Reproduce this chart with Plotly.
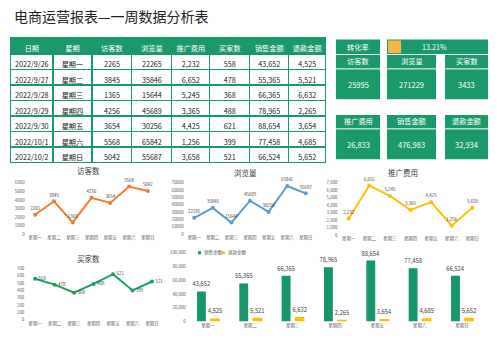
import plotly.graph_objects as go

W, H = 503, 356

dates = ["2022/9/26", "2022/9/27", "2022/9/28", "2022/9/29", "2022/9/30", "2022/10/1", "2022/10/2"]
weekdays = ["星期一", "星期二", "星期三", "星期四", "星期五", "星期六", "星期日"]
visitors = [2265, 3845, 1365, 4256, 3654, 5568, 5042]
views = [22265, 35846, 15644, 45689, 30256, 65842, 55687]
promo = [2232, 6652, 5245, 3365, 4425, 1256, 3658]
buyers = [558, 478, 368, 488, 621, 399, 521]
sales = [43652, 55365, 66365, 78965, 88654, 77458, 66524]
refund = [4525, 5521, 6632, 2265, 3654, 4685, 5652]
headers = ["日期", "星期", "访客数", "浏览量", "推广费用", "买家数", "销售金额", "退款金额"]

GREEN = "#1a9a6a"
BARGREEN = "#17966A"
YELLOW = "#FFC000"
CJK = "Noto Sans CJK SC"
TXT = "#404040"


def px(x):
    return x / W


def py(y):
    return 1 - y / H


fig = go.Figure()

# ---------------- table ----------------
colw = [42.3, 39, 40, 40, 38, 40, 39, 37]
fig.add_trace(go.Table(
    domain=dict(x=[px(10.7), px(326)], y=[py(200), py(35.5)]),
    columnwidth=colw,
    header=dict(values=headers, fill_color=GREEN, line=dict(color=GREEN, width=1.2),
                font=dict(color="white", size=7.2, family=CJK), align="center", height=16),
    cells=dict(values=[dates, weekdays, [str(v) for v in visitors], [str(v) for v in views],
                       [f"{v:,}" for v in promo], [str(v) for v in buyers],
                       [f"{v:,}" for v in sales], [f"{v:,}" for v in refund]],
               fill_color="white", line=dict(color=GREEN, width=1.2),
               font=dict(color="#1a1a1a", size=7.2, family=CJK), align="center", height=15.5),
))

shapes = []
ann = []

# ---------------- title ----------------
ann.append(dict(x=px(12), y=py(13), xref="paper", yref="paper", text="电商运营报表—一周数据分析表",
                showarrow=False, xanchor="left", yanchor="middle",
                font=dict(size=14, family=CJK, color="#222222")))

# ---------------- KPI panel ----------------
rate = sum(buyers) / sum(visitors) * 100


def box(x0, x1, y0, y1, color=GREEN):
    shapes.append(dict(type="rect", xref="paper", yref="paper", x0=px(x0), x1=px(x1),
                       y0=py(y1), y1=py(y0), fillcolor=color, line=dict(width=0), layer="below"))


def text(x, y, s, size=7.2, color="white", anchor="center"):
    ann.append(dict(x=px(x), y=py(y), xref="paper", yref="paper", text=s, showarrow=False,
                    xanchor=anchor, yanchor="middle", font=dict(size=size, family=CJK, color=color)))


box(336, 380, 37, 52)
text(358, 44.5, "转化率")
box(387, 488, 37, 52)
text(434, 44.5, f"{rate:.2f}%")

kpis = [
    ("访客数", f"{sum(visitors)}", 336, 380, 53),
    ("浏览量", f"{sum(views)}", 387, 436, 53),
    ("买家数", f"{sum(buyers)}", 445, 488, 53),
    ("推广费用", f"{sum(promo):,}", 336, 380, 114),
    ("销售金额", f"{sum(sales):,}", 387, 436, 114),
    ("退款金额", f"{sum(refund):,}", 445, 488, 114),
]
for name, val, x0, x1, y0 in kpis:
    box(x0, x1, y0, y0 + 45)
    shapes.append(dict(type="line", xref="paper", yref="paper", x0=px(x0), x1=px(x1),
                       y0=py(y0 + 14), y1=py(y0 + 14), line=dict(color="white", width=1)))
    text((x0 + x1) / 2, y0 + 6.5, name)
    text((x0 + x1) / 2, y0 + 29.5, val, size=7.5)

# progress bar for conversion rate
fig.add_trace(go.Bar(x=[rate], y=[0], orientation="h", xaxis="x6", yaxis="y6",
                     marker=dict(color="#F7B54A", line=dict(width=0)), width=1,
                     showlegend=False, hoverinfo="skip"))

# ---------------- line charts ----------------
tickfont = dict(size=4.4, color="#595959", family=CJK)
xfont = dict(size=4.4, color="#595959", family=CJK)


def yticks(rng, step, comma):
    vals = list(range(rng[0], rng[1] + 1, step))
    txt = [f"{v:,}" if comma else str(v) for v in vals]
    return vals, txt


def line_chart(idx, values, color, dom_x, dom_y, rng, dtick, comma, tpos, title, title_xy):
    xa = "x" if idx == 1 else f"x{idx}"
    ya = "y" if idx == 1 else f"y{idx}"
    labels = [f"{v:,}" if comma else str(v) for v in values]
    fig.add_trace(go.Scatter(x=weekdays, y=values, xaxis=xa, yaxis=ya, mode="lines+markers+text",
                             line=dict(color=color, width=2), marker=dict(color=color, size=4),
                             text=labels, textposition=tpos, cliponaxis=False,
                             textfont=dict(size=4.4, color=TXT, family=CJK),
                             showlegend=False, hoverinfo="skip"))
    key = "" if idx == 1 else str(idx)
    tv, tt = yticks(rng, dtick, comma)
    fig.layout["xaxis" + key] = dict(domain=[px(dom_x[0]), px(dom_x[1])], anchor=ya, type="category",
                                     showgrid=False, zeroline=False, showline=False, ticks="",
                                     tickangle=0, tickfont=xfont, fixedrange=True)
    fig.layout["yaxis" + key] = dict(domain=[py(dom_y[1]), py(dom_y[0])], anchor=xa, range=rng,
                                     tickmode="array", tickvals=tv, ticktext=tt, showgrid=False,
                                     zeroline=False, showline=False, ticks="", tickfont=tickfont,
                                     fixedrange=True)
    text(title_xy[0], title_xy[1], title, size=7.5, color=TXT)


line_chart(1, visitors, "#ED7D31", (25.6, 157.4), (183, 235), [0, 6000], 1000, False,
           "top center", "访客数", (88, 170))
line_chart(2, views, "#5B9BD5", (184.7, 315.3), (183, 235), [0, 70000], 10000, False,
           "top center", "浏览量", (245, 172))
line_chart(3, promo, YELLOW, (338.5, 482.5), (183, 236), [0, 7000], 1000, True,
           "top center", "推广费用", (403, 172))
line_chart(4, buyers, "#1AA05F", (25.3, 161.8), (270, 322), [0, 700], 100, False,
           "middle right", "买家数", (88, 260))

# ---------------- bar chart ----------------
for vals, name, color, off, wd in [(sales, "销售金额", BARGREEN, -0.26, 0.21),
                                     (refund, "退款金额", YELLOW, 0.05, 0.23)]:
    fig.add_trace(go.Bar(x=weekdays, y=vals, name=name, xaxis="x5", yaxis="y5",
                         marker=dict(color=color, line=dict(width=0)), offset=off, width=wd,
                         text=[f"{v:,}" for v in vals], textposition="outside", cliponaxis=False,
                         constraintext="none", showlegend=False,
                         textfont=dict(size=5.8, color=TXT, family=CJK), hoverinfo="skip"))

tv, tt = yticks([0, 100000], 20000, True)
fig.layout["xaxis5"] = dict(domain=[px(186.8), px(483.2)], anchor="y5", type="category",
                            showgrid=False, zeroline=False, showline=False, ticks="",
                            tickangle=0, tickfont=xfont, fixedrange=True)
fig.layout["yaxis5"] = dict(domain=[py(324), py(254)], anchor="x5", range=[0, 100000],
                            tickmode="array", tickvals=tv, ticktext=tt, showgrid=False,
                            zeroline=False, showline=False, ticks="", tickfont=tickfont,
                            fixedrange=True)

# legend of the bar chart
for lx, name, color in [(198, "销售金额", BARGREEN), (222, "退款金额", YELLOW)]:
    shapes.append(dict(type="rect", xref="paper", yref="paper", x0=px(lx), x1=px(lx + 3),
                       y0=py(255.5), y1=py(252.5), fillcolor=color, line=dict(width=0)))
    text(lx + 4, 254, name, size=4.5, color="#595959", anchor="left")

fig.layout["xaxis6"] = dict(domain=[px(388), px(487)], anchor="y6", range=[0, 100], visible=False,
                            fixedrange=True)
fig.layout["yaxis6"] = dict(domain=[py(51), py(38)], anchor="x6", range=[-0.5, 0.5], visible=False,
                            fixedrange=True)

fig.update_layout(
    width=W, height=H, autosize=False, margin=dict(l=0, r=0, t=0, b=0),
    paper_bgcolor="white", plot_bgcolor="rgba(0,0,0,0)",
    barmode="overlay", shapes=shapes, annotations=ann, showlegend=False,
    font=dict(family=CJK),
)

fig.write_html("out.html", config={"displayModeBar": False})
with open("out.html", encoding="utf-8") as f:
    html = f.read()
html = html.replace("<head>", "<head><style>body{margin:0;padding:0;}</style>", 1)
with open("out.html", "w", encoding="utf-8") as f:
    f.write(html)
